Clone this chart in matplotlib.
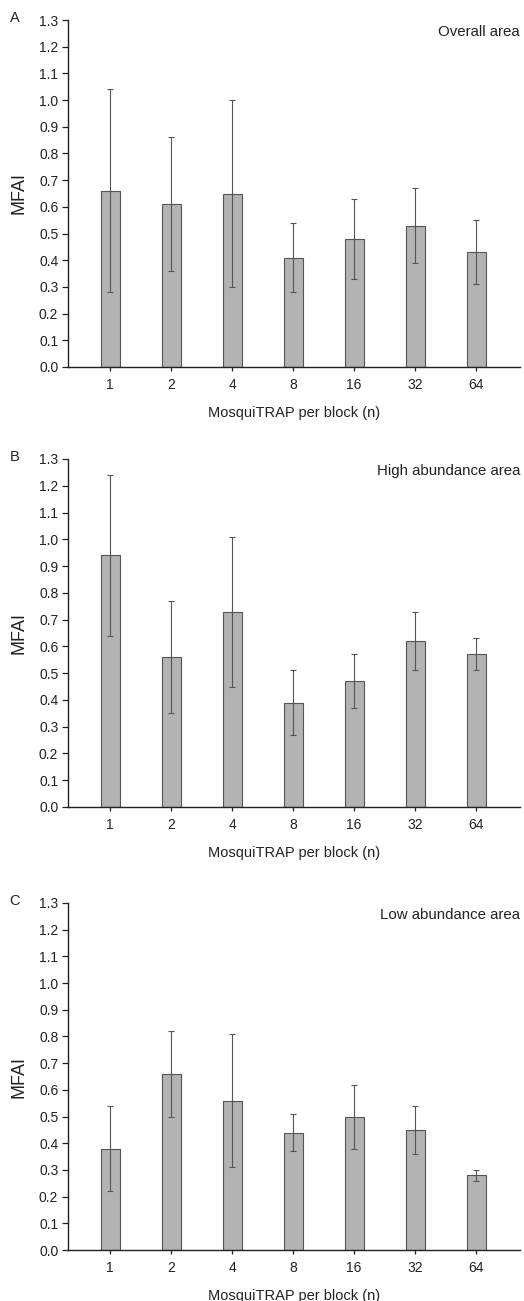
import matplotlib
matplotlib.use("Agg")
import matplotlib.pyplot as plt
import numpy as np

plt.rcParams['font.family'] = ['Liberation Sans', 'DejaVu Sans']

categories = ["1", "2", "4", "8", "16", "32", "64"]
yticks = [0.0, 0.1, 0.2, 0.3, 0.4, 0.5, 0.6, 0.7, 0.8, 0.9, 1.0, 1.1, 1.2, 1.3]

panel_letters = ["A", "B", "C"]
panel_titles = ["Overall area", "High abundance area", "Low abundance area"]

overall_mean = [0.66, 0.61, 0.65, 0.41, 0.48, 0.53, 0.43]
overall_low = [0.28, 0.36, 0.30, 0.28, 0.33, 0.39, 0.31]
overall_high = [1.04, 0.86, 1.00, 0.54, 0.63, 0.67, 0.55]

high_mean = [0.94, 0.56, 0.73, 0.39, 0.47, 0.62, 0.57]
high_low = [0.64, 0.35, 0.45, 0.27, 0.37, 0.51, 0.51]
high_high = [1.24, 0.77, 1.01, 0.51, 0.57, 0.73, 0.63]

low_mean = [0.38, 0.66, 0.56, 0.44, 0.50, 0.45, 0.28]
low_low = [0.22, 0.50, 0.31, 0.37, 0.38, 0.36, 0.26]
low_high = [0.54, 0.82, 0.81, 0.51, 0.62, 0.54, 0.30]

means = [overall_mean, high_mean, low_mean]
lows = [overall_low, high_low, low_low]
highs = [overall_high, high_high, low_high]

W, H = 524, 1301
fig = plt.figure(figsize=(W / 100, H / 100), dpi=100)

# (top, bottom) in pixels for each panel
panel_px = [(20, 367), (459, 807), (903, 1250)]
left_px, right_px = 68, 520

for i in range(3):
    top, bot = panel_px[i]
    ax = fig.add_axes([left_px / W, 1 - bot / H, (right_px - left_px) / W, (bot - top) / H])
    x = np.arange(len(categories))
    m = np.array(means[i])
    lo = m - np.array(lows[i])
    hi = np.array(highs[i]) - m
    ax.bar(x, m, width=0.31, color="#b3b3b3", edgecolor="#555555", linewidth=0.8, zorder=2)
    ax.errorbar(x, m, yerr=[lo, hi], fmt="none", ecolor="#555555", elinewidth=0.8,
                capsize=2.5, capthick=0.8, zorder=3)
    ax.set_xlim(-0.69, 6.72)
    ax.set_ylim(0, 1.3)
    ax.set_xticks(x)
    ax.set_xticklabels(categories)
    ax.set_yticks(yticks)
    ax.set_yticklabels([f"{v:.1f}" for v in yticks])
    for s in ["top", "right"]:
        ax.spines[s].set_visible(False)
    for s in ["left", "bottom"]:
        ax.spines[s].set_linewidth(1.0)
        ax.spines[s].set_color("#222222")
    ax.tick_params(axis="y", direction="out", length=4, width=0.9, labelsize=10, pad=3, colors="#222222")
    ax.tick_params(axis="x", direction="out", length=3, width=0.9, labelsize=10, pad=5, colors="#222222")
    ax.set_xlabel("MosquiTRAP per block (n)", fontsize=10.5, labelpad=10, color="#222222")
    ax.set_ylabel("MFAI", fontsize=13, labelpad=8, color="#222222")
    ax.text(1.0, 0.985, panel_titles[i], transform=ax.transAxes, ha="right", va="top",
            fontsize=10.8, color="#222222")
    fig.text(15 / W, 1 - (top - 2) / H, panel_letters[i], ha="center", va="center",
             fontsize=10.5, color="#222222")

fig.savefig("out.png", dpi=100)
